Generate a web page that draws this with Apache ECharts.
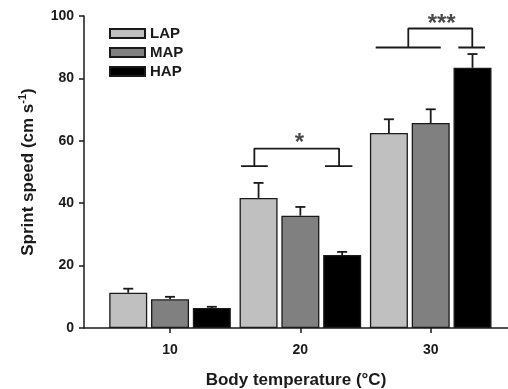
<!DOCTYPE html>
<html>
<head>
<meta charset="utf-8">
<script src="https://cdn.jsdelivr.net/npm/echarts@6/dist/echarts.min.js"></script>
<style>
  html, body { margin: 0; padding: 0; background: #fff; }
  #chart { width: 508px; height: 389px; }
</style>
</head>
<body>
<div id="chart"></div>
<script>
// Body temperatures (°C) at which sprint speed was measured
const temperatures = [10, 20, 30];
const groupNames = ['LAP', 'MAP', 'HAP'];

// Mean sprint speed (cm s-1) and standard error for each group
const lapMeans = [11.3, 41.7, 62.5];
const lapErrors = [1.3, 4.8, 4.4];
const mapMeans = [9.2, 36.0, 65.7];
const mapErrors = [0.8, 2.8, 4.4];
const hapMeans = [6.4, 23.4, 83.4];
const hapErrors = [0.4, 1.0, 4.4];

// Y axis ticks
const yTicks = [0, 20, 40, 60, 80, 100];

// Significance brackets: [x, y] vertices in data units (null breaks the path)
const bracket20 = [
  [15.45, 51.9], [17.50, 51.9], null,
  [16.47, 51.9], [16.47, 57.5], [22.97, 57.5], [22.97, 51.9], null,
  [21.89, 51.9], [23.99, 51.9]
];
const bracket30 = [
  [25.78, 89.9], [30.77, 89.9], null,
  [28.28, 89.9], [28.28, 96.0], [33.19, 96.0], [33.19, 89.9], null,
  [32.12, 89.9], [34.17, 89.9]
];
const starLabels = [
  { pos: [19.93, 59.3], text: '*' },
  { pos: [30.84, 97.3], text: '***' }
];

const fills = ['#c0c0c0', '#808080', '#000000'];
const BAR_W = 38;
const BAR_GAP = 0.1;
const font = 'Liberation Sans, Arial, sans-serif';

const means = [lapMeans, mapMeans, hapMeans];
const errs = [lapErrors, mapErrors, hapErrors];

function toPath(pts) {
  return pts.map(p => p === null ? '-' : p);
}

const series = [];
groupNames.forEach((name, i) => {
  series.push({
    name: name,
    type: 'bar',
    barWidth: BAR_W,
    barGap: (BAR_GAP * 100) + '%',
    data: temperatures.map((t, k) => [t, means[i][k]]),
    itemStyle: { color: fills[i], borderColor: '#1a1a1a', borderWidth: 1.3 },
    z: 2
  });
});

// Upward error bars with caps, shifted to sit over each bar
groupNames.forEach((name, i) => {
  const shift = (i - 1) * BAR_W * (1 + BAR_GAP);
  series.push({
    type: 'custom',
    silent: true,
    z: 3,
    data: temperatures.map((t, k) => [t, means[i][k], means[i][k] + errs[i][k]]),
    renderItem: function (params, api) {
      const base = api.coord([api.value(0), api.value(1)]);
      const top = api.coord([api.value(0), api.value(2)]);
      const x = base[0] + shift;
      const style = { stroke: '#1a1a1a', lineWidth: 1.8, fill: null };
      return {
        type: 'group',
        children: [
          { type: 'line', shape: { x1: x, y1: base[1], x2: x, y2: top[1] }, style: style },
          { type: 'line', shape: { x1: x - 5, y1: top[1], x2: x + 5, y2: top[1] }, style: style }
        ]
      };
    }
  });
});

[bracket20, bracket30].forEach(b => {
  series.push({
    type: 'line',
    data: toPath(b),
    symbol: 'none',
    silent: true,
    connectNulls: false,
    lineStyle: { color: '#1a1a1a', width: 1.8 },
    z: 4
  });
});

series.push({
  type: 'scatter',
  symbolSize: 0,
  silent: true,
  data: starLabels.map(s => ({ value: s.pos, label: { formatter: s.text } })),
  label: {
    show: true,
    position: 'inside',
    color: '#1a1a1a',
    fontSize: 24,
    fontWeight: 'bold',
    fontFamily: font
  },
  z: 5
});

const chart = echarts.init(document.getElementById('chart'), null, { renderer: 'canvas' });
chart.setOption({
  animation: false,
  backgroundColor: '#ffffff',
  grid: { left: 84, right: 0, top: 16, bottom: 61, containLabel: false, outerBoundsMode: 'none' },
  legend: {
    data: groupNames,
    orient: 'vertical',
    left: 104,
    top: 21,
    itemWidth: 35,
    itemHeight: 9,
    itemGap: 4,
    icon: 'rect',
    textStyle: { fontSize: 15, fontWeight: 'bold', color: '#1a1a1a', fontFamily: font }
  },
  xAxis: {
    type: 'value',
    min: 3.40,
    max: 35.93,
    name: 'Body temperature (°C)',
    nameLocation: 'middle',
    nameGap: 44,
    nameTextStyle: { fontSize: 17, fontWeight: 'bold', color: '#1a1a1a', fontFamily: font },
    splitLine: { show: false },
    axisLine: { show: true, lineStyle: { color: '#1a1a1a', width: 1.5 } },
    axisTick: { show: true, customValues: temperatures, length: 5, lineStyle: { color: '#1a1a1a', width: 1.5 } },
    axisLabel: {
      customValues: temperatures,
      margin: 15,
      fontSize: 14,
      fontWeight: 'bold',
      color: '#1a1a1a',
      fontFamily: font
    }
  },
  yAxis: {
    type: 'value',
    min: 0,
    max: 100,
    interval: 20,
    name: '{a|Sprint speed (cm s}{s|-1}{a|)}',
    nameLocation: 'middle',
    nameGap: 47,
    nameTextStyle: {
      rich: {
        a: { fontSize: 17, fontWeight: 'bold', color: '#1a1a1a', fontFamily: font, lineHeight: 20, verticalAlign: 'bottom' },
        s: { fontSize: 11, fontWeight: 'bold', color: '#1a1a1a', fontFamily: font, lineHeight: 20, verticalAlign: 'top' }
      }
    },
    splitLine: { show: false },
    axisLine: { show: true, lineStyle: { color: '#1a1a1a', width: 1.5 } },
    axisTick: { show: true, length: 5, lineStyle: { color: '#1a1a1a', width: 1.5 } },
    axisLabel: {
      customValues: yTicks,
      margin: 10,
      fontSize: 14,
      fontWeight: 'bold',
      color: '#1a1a1a',
      fontFamily: font
    }
  },
  series: series
});
</script>
</body>
</html>
